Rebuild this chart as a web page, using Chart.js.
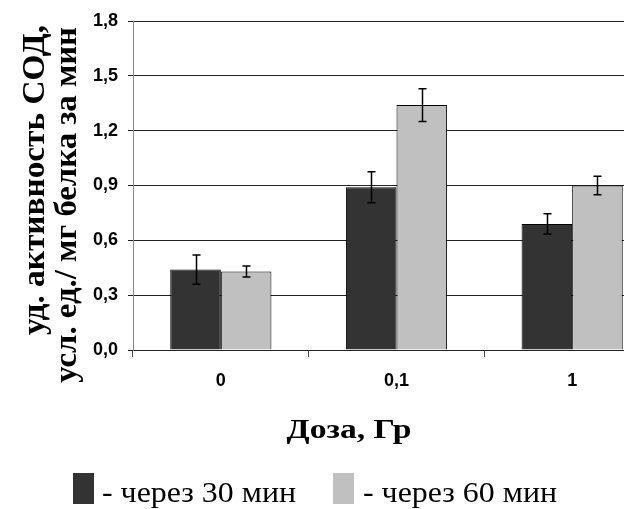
<!DOCTYPE html>
<html>
<head>
<meta charset="utf-8">
<script src="https://cdn.jsdelivr.net/npm/chart.js@4.4.1/dist/chart.umd.min.js"></script>
<style>
  html, body { margin: 0; padding: 0; background: #fff; overflow: hidden; }
  #wrap { width: 624px; height: 509px; overflow: hidden; }
</style>
</head>
<body>
<div id="wrap"><canvas id="chart" width="660" height="509"></canvas></div>
<script>
// data
const categories = ['0', '0,1', '1'];
const after30 = [0.44, 0.89, 0.69];
const after60 = [0.43, 1.34, 0.90];
const err30 = [0.08, 0.085, 0.055];
const err60 = [0.03, 0.09, 0.05];
const yTitleLines = ['уд. активность СОД,', 'усл. ед./ мг белка за мин'];
const xTitle = 'Доза, Гр';
const legendLabels = ['- через 30 мин', '- через 60 мин'];

const dark = '#333333';
const light = '#c0c0c0';
const serif = '"Liberation Serif", "Times New Roman", serif';
const narrow = '"Liberation Sans Narrow", "Arial Narrow", "Liberation Sans", Arial, sans-serif';

const errorBars = {
  id: 'errorBars',
  afterDatasetsDraw(chart) {
    const ctx = chart.ctx;
    const y = chart.scales.y;
    ctx.save();
    ctx.strokeStyle = '#000';
    ctx.lineWidth = 1.5;
    chart.data.datasets.forEach((ds, i) => {
      chart.getDatasetMeta(i).data.forEach((bar, j) => {
        const v = ds.data[j], e = ds.errors[j];
        const top = y.getPixelForValue(v + e);
        const bot = y.getPixelForValue(v - e);
        const x = Math.round(bar.x) + 0.5;
        ctx.beginPath();
        ctx.moveTo(x, top); ctx.lineTo(x, bot);
        ctx.moveTo(x - 4, top); ctx.lineTo(x + 4, top);
        ctx.moveTo(x - 4, bot); ctx.lineTo(x + 4, bot);
        ctx.stroke();
      });
    });
    ctx.restore();
  }
};

// stretched text, the original picture was scaled unevenly
function drawText(ctx, text, x, y, rot, sx, sy) {
  ctx.save();
  ctx.translate(x, y);
  ctx.rotate(rot);
  ctx.scale(sx, sy);
  ctx.fillText(text, 0, 0);
  ctx.restore();
}

const labelsPlugin = {
  id: 'labelsPlugin',
  afterDraw(chart) {
    const ctx = chart.ctx;
    ctx.save();
    ctx.fillStyle = '#000';
    // y title, two rotated lines
    ctx.font = 'bold 28px ' + serif;
    ctx.textAlign = 'right';
    ctx.textBaseline = 'middle';
    drawText(ctx, yTitleLines[0], 36, 25, -Math.PI / 2, 1.19, 1.1);
    drawText(ctx, yTitleLines[1], 68, 27, -Math.PI / 2, 1.17, 1.1);
    // x title
    ctx.font = 'bold 28px ' + serif;
    ctx.textAlign = 'center';
    ctx.textBaseline = 'alphabetic';
    drawText(ctx, xTitle, 349, 438, 0, 1.2, 1);
    // legend
    ctx.font = '29px ' + serif;
    ctx.textAlign = 'left';
    [[73, dark, 102], [333, light, 363]].forEach((p, i) => {
      ctx.fillStyle = p[1];
      ctx.fillRect(p[0], 473, 21, 31);
      ctx.fillStyle = '#000';
      drawText(ctx, legendLabels[i], p[2], 502, 0, 1.1, 1);
    });
    ctx.restore();
  }
};

new Chart(document.getElementById('chart'), {
  type: 'bar',
  data: {
    labels: categories,
    datasets: [
      { label: legendLabels[0], data: after30, errors: err30, backgroundColor: dark, borderColor: '#000', borderWidth: 1 },
      { label: legendLabels[1], data: after60, errors: err60, backgroundColor: light, borderColor: '#000', borderWidth: 1 }
    ]
  },
  options: {
    responsive: false,
    animation: false,
    devicePixelRatio: 1,
    layout: { padding: { top: 21, left: 0, right: 0, bottom: 0 } },
    datasets: { bar: { barPercentage: 1, categoryPercentage: 0.576 } },
    plugins: { legend: { display: false }, tooltip: { enabled: false } },
    scales: {
      x: {
        offset: true,
        grid: { offset: true, drawOnChartArea: false, tickLength: 7, color: '#444' },
        border: { color: '#222' },
        ticks: { color: '#000', font: { family: narrow, size: 18, weight: 'bold' }, padding: 13 },
        afterFit(scale) { scale.height = 159; }
      },
      y: {
        min: 0,
        max: 1.8,
        ticks: {
          stepSize: 0.3,
          color: '#000',
          padding: 10,
          font: { family: narrow, size: 18, weight: 'bold' },
          callback: v => v.toFixed(1).replace('.', ',')
        },
        grid: { color: '#222', tickLength: 5 },
        border: { color: '#888' },
        afterFit(scale) { scale.width = 133; }
      }
    }
  },
  plugins: [errorBars, labelsPlugin]
});
</script>
</body>
</html>
